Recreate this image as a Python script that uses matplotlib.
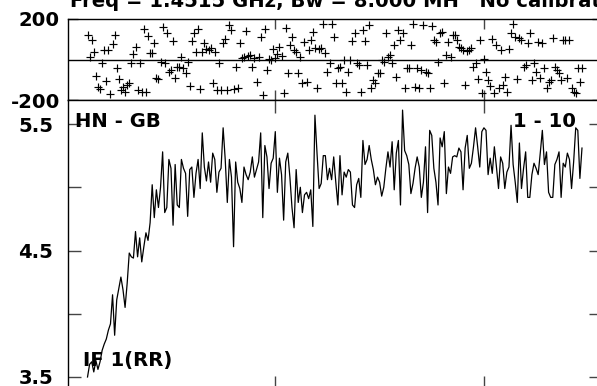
import numpy as np
import matplotlib
matplotlib.use("Agg")
import matplotlib.pyplot as plt

# ---------------- data ----------------
first_channel = 10

amp_rise = [3.50, 3.60, 3.62, 3.54, 3.63, 3.56, 3.62, 3.71, 3.76, 3.80,
            3.87, 3.92, 4.15, 3.83, 4.11, 4.20, 4.29, 4.19, 4.05, 4.24,
            4.48, 4.45, 4.44, 4.65, 4.45, 4.60, 4.41, 4.53, 4.64, 4.58, 4.72]
amp_seg2 = [5.02, 4.76, 4.98, 4.84, 5.00, 5.28, 4.80, 4.84, 5.22, 5.15,
            4.70, 5.18, 4.86, 4.84, 5.22, 5.15, 5.11, 4.77, 5.14, 5.16,
            4.92, 5.11, 5.22, 4.99, 5.43, 5.16, 5.05, 5.20, 5.04, 5.27,
            5.22, 4.96, 5.12, 5.15, 5.47, 5.22, 4.88, 5.22, 5.08, 4.53, 5.20]
amp_seg3 = [5.04, 4.99, 4.88, 5.16, 5.10, 5.06, 5.12, 5.24, 5.08, 5.14,
            5.20, 5.43, 4.76, 5.33, 5.24, 4.99, 5.19, 5.23, 5.44, 4.96,
            5.23, 5.10, 4.74, 5.20, 5.27, 5.08, 4.84, 4.68, 5.14, 4.88,
            5.00, 4.80, 4.94, 4.96, 4.91, 4.98, 4.69, 5.57, 5.27, 4.99,
            5.03, 5.25, 5.25, 5.06]
amp_seg4 = [5.15, 5.06, 5.24, 5.04, 4.86, 5.25, 4.94, 5.12, 5.08, 5.14,
            5.12, 4.86, 4.84, 5.02, 5.07, 4.92, 5.37, 5.18, 5.22, 5.33,
            5.22, 5.14, 5.02, 5.08, 5.04, 4.93, 5.00, 5.15, 5.28, 5.16,
            5.36, 4.98, 5.27, 5.37, 4.86, 5.61, 5.29, 5.25, 5.18, 4.95,
            5.03, 5.15, 5.24]
amp_seg5 = [5.16, 4.92, 5.04, 5.32, 4.80, 5.45, 5.41, 5.15, 5.04, 4.86,
            5.39, 5.32, 5.44, 4.95, 5.16, 5.11, 5.24, 5.25, 5.24, 5.31,
            5.28, 4.98, 5.31, 5.41, 5.15, 5.19, 5.32, 5.47, 5.32, 5.16,
            5.44, 5.47, 5.45, 5.10, 5.23, 5.11, 5.32, 5.16, 4.99, 5.24,
            5.19, 4.99, 5.12, 5.16]
amp_seg6 = [5.49, 5.18, 5.04, 4.88, 5.35, 4.99, 5.15, 5.28, 4.92, 4.92,
            5.10, 5.19, 5.15, 5.10, 5.27, 5.45, 5.18, 5.28, 4.96, 4.92,
            4.92, 5.18, 5.22, 5.28, 4.92, 5.19, 5.16, 5.27, 5.22, 4.99,
            5.20, 5.47, 5.45, 5.07, 5.31]

phase = [121, 12, 96, 37, -82, -136, -146, -17, 47, -106,
         47, -170, 77, 121, -42, -96, -151, -136, -161, -126,
         -116, -17, 27, 62, -151, -17, -161, 150, -161, 116,
         32, 32, 82, -91, -96, -12,
         160, -17, 131, -62, -52, 91, -91, -37, -37, 12,
         -42, -67, -12, -131, 91, 131, 37, 150, -146, 37,
         82, 52, 47, 57, -116, 37, -151, -17, -151, 82,
         101, -151, 170, 146, -146, -37, -141, 82, 7, 12,
         141, 17, 22, -37, 7,
         -111, 12, 111, -175, 150, -52, 2, -2, 52, 7,
         27, 62, 17, -165, 155, -67, 72, 111, 47, 37,
         -67, 12, -116, 86, -111, 47, 96, 136, 57, -141,
         52, 57, 175, 32, -62, -17, 175, 111, -116, -42,
         -37, -116, -2, -161, -62, -2, 91, 131, -17, -27,
         -161, 146, 91, -27, 170, -141, -101, -116, -67, -67, -2,
         -12, 131, 12, 22, -17, 72, -86, 146, 96, 131,
         -141, -42, -42, 72, 175, -136, -42, -141, -52, 170,
         -62, -67, -141, 165, 96, 86, -12, 131, 136, -116,
         22, 86, 12, 121, 121, 96, 62, 57,
         47, -126, 42, 47, 57, -37, -17, -96, 96, -165,
         2, -62, -101, -131, 101, -165, 72, -141, 47, -126,
         -86, -161, 52, 131, 175, 111, -96, 106, 96, -37,
         -27, 82, 131, -101, -17, -62, 86, -91, 82, -42,
         -141, -111, -101, 106, -37, -52, -67, -101, 96, 96,
         -91, 96, -141, -161, -165, -42, -111, -42]

amplitude = amp_rise + amp_seg2 + amp_seg3 + amp_seg4 + amp_seg5 + amp_seg6

title = "Freq = 1.4515 GHz, Bw = 8.000 MH   No calibration"
baseline_label = "HN - GB"
range_label = "1 - 10"
if_label = "IF 1(RR)"
phase_ticks = [-200, 200]
phase_ticklabels = ["-200", "200"]
amp_ticks = [3.5, 4.0, 4.5, 5.0, 5.5]
amp_ticklabels = ["3.5", "", "4.5", "", "5.5"]
chan_ticks = [100, 200]

# ---------------- plot ----------------
plt.rcParams['font.family'] = ['DejaVu Sans']
plt.rcParams['font.weight'] = 'bold'

W, H = 597, 386
fig = plt.figure(figsize=(W / 100, H / 100), dpi=100)
fig.patch.set_facecolor('white')


def frac(x0, y_top, x1, y_bot):
    return [x0 / W, 1 - y_bot / H, (x1 - x0) / W, (y_bot - y_top) / H]


ax1 = fig.add_axes(frac(67.7, 19, 601.8, 100))
ax2 = fig.add_axes(frac(67.7, 100, 601.8, 389))

ch_amp = np.arange(first_channel, first_channel + len(amplitude))
ch_ph = np.arange(first_channel, first_channel + len(phase))

ax1.plot(ch_ph, phase, linestyle='none', marker='+', color='black',
         markersize=5.6, markeredgewidth=0.85)
ax1.axhline(0, color='black', lw=1.0)
ax1.set_xlim(0.5, 256.5)
ax1.set_ylim(-200, 200)

ax2.plot(ch_amp, amplitude, color='black', lw=0.9)
ax2.set_xlim(0.5, 256.5)
ax2.set_ylim(3.405, 5.69)

fs = 14.1
for ax in (ax1, ax2):
    for s in ax.spines.values():
        s.set_linewidth(1.0)
    ax.set_xticks(chan_ticks)
    ax.set_xticklabels([])

ax1.set_yticks(phase_ticks)
ax1.set_yticklabels(phase_ticklabels, fontsize=fs, fontweight='bold')
ax1.tick_params(axis='both', direction='in', top=True, right=True,
                length=7, width=1.0, color='#444444')
ax1.tick_params(axis='y', pad=5.5)

ax2.set_yticks(amp_ticks)
ax2.set_yticklabels(amp_ticklabels, fontsize=fs, fontweight='bold')
ax2.tick_params(axis='both', direction='in', top=True, right=True,
                length=9.4, width=1.0, color='#444444')
ax2.tick_params(axis='y', pad=10.5)


def ftext(x, y, s, **kw):
    fig.text(x / W, 1 - y / H, s, fontsize=fs, fontweight='bold',
             va='baseline', **kw)


ftext(70, 7, title, ha='left')
ftext(75, 127, baseline_label, ha='left')
ftext(576, 127, range_label, ha='right')
ftext(83, 366, if_label, ha='left')

fig.savefig("out.png", dpi=100, facecolor='white')
